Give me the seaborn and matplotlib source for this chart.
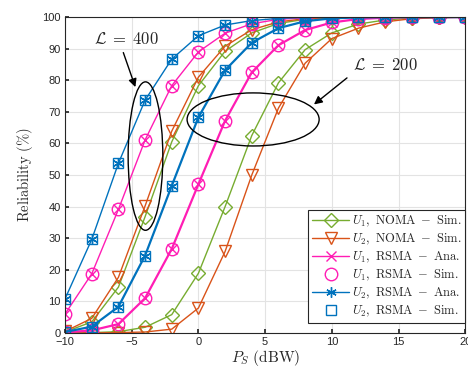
import numpy as np
import pandas as pd
import seaborn as sns
import matplotlib
matplotlib.use("Agg")
import matplotlib.pyplot as plt
from matplotlib.patches import Ellipse
from matplotlib.lines import Line2D

# transmit power P_S (dBW)
ps = [-10, -8, -6, -4, -2, 0, 2, 4, 6, 8, 10, 12, 14, 16, 18, 20]

# L = 400
u1_noma_400 = [0.3, 3.5, 14.5, 36.8, 60.5, 78.3, 89.2, 95.0, 98.0, 99.3, 99.8, 100, 100, 100, 100, 100]
u2_noma_400 = [0.5, 4.6, 17.6, 40.2, 63.9, 81.0, 90.8, 96.0, 98.5, 99.5, 99.9, 100, 100, 100, 100, 100]
u1_rsma_400 = [6.0, 18.7, 39.1, 61.1, 78.3, 89.0, 94.9, 97.9, 99.3, 99.8, 100, 100, 100, 100, 100, 100]
u2_rsma_400 = [10.8, 29.6, 53.7, 73.7, 86.7, 94.1, 97.5, 98.9, 99.6, 99.9, 100, 100, 100, 100, 100, 100]

# L = 200
u1_noma_200 = [0.0, 0.1, 0.4, 1.8, 5.8, 18.9, 40.0, 62.5, 79.2, 89.7, 95.0, 97.8, 99.1, 99.7, 99.9, 100]
u2_noma_200 = [0.0, 0.0, 0.1, 0.3, 1.2, 7.9, 25.8, 50.0, 71.2, 85.4, 93.2, 96.5, 98.5, 99.5, 99.8, 100]
u1_rsma_200 = [0.2, 0.8, 2.8, 11.0, 26.6, 47.1, 67.2, 82.5, 91.1, 95.9, 98.3, 99.4, 99.8, 100, 100, 100]
u2_rsma_200 = [0.3, 2.0, 8.3, 24.5, 46.6, 68.3, 83.2, 91.9, 96.5, 98.7, 99.6, 99.9, 100, 100, 100, 100]

labels = [r"$U_1\mathrm{,\ NOMA}\ -\ \mathrm{Sim.}$",
          r"$U_2\mathrm{,\ NOMA}\ -\ \mathrm{Sim.}$",
          r"$U_1\mathrm{,\ RSMA}\ -\ \mathrm{Ana.}$",
          r"$U_1\mathrm{,\ RSMA}\ -\ \mathrm{Sim.}$",
          r"$U_2\mathrm{,\ RSMA}\ -\ \mathrm{Ana.}$",
          r"$U_2\mathrm{,\ RSMA}\ -\ \mathrm{Sim.}$"]

green = "#77AC30"
orange = "#D95319"
magenta = "#FF1DB4"
blue = "#0072BD"
asterisk = (6, 2, 0)

sns.set_theme(style="whitegrid", rc={
    "grid.color": "#e3e3e3", "grid.linewidth": 0.8,
    "axes.edgecolor": "#262626", "axes.linewidth": 0.8,
    "xtick.direction": "in", "ytick.direction": "in",
    "xtick.bottom": True, "ytick.left": True,
    "xtick.major.size": 3, "ytick.major.size": 3,
})
plt.rcParams["font.family"] = ["Liberation Sans", "DejaVu Sans"]
plt.rcParams["mathtext.fontset"] = "cm"

fig = plt.figure(figsize=(4.68, 3.72), dpi=100)
ax = fig.add_axes([0.139, 0.105, 0.855, 0.849])

df = pd.DataFrame({"ps": ps})

# marker styles: (marker, size)
mk = {"noma1": ("D", 7), "noma2": ("v", 9), "ana1": ("x", 7),
      "sim1": ("o", 9), "ana2": (asterisk, 7.5), "sim2": ("s", 7)}


def draw(y, color, key, lw, line=True):
    m, ms = mk[key]
    sns.lineplot(x=df["ps"], y=y, ax=ax, color=color, marker=m,
                 markersize=ms, linewidth=lw if line else 0,
                 linestyle="-" if line else "none", markerfacecolor="none",
                 markeredgecolor=color, markeredgewidth=1.0)


for grp in (0, 1):
    if grp == 0:
        a, b, c, d = u1_noma_400, u2_noma_400, u1_rsma_400, u2_rsma_400
        lwr = 1.0
    else:
        a, b, c, d = u1_noma_200, u2_noma_200, u1_rsma_200, u2_rsma_200
        lwr = 1.6
    draw(a, green, "noma1", 1.0)
    draw(b, orange, "noma2", 1.0)
    draw(c, magenta, "ana1", lwr)
    draw(c, magenta, "sim1", 0, line=False)
    draw(d, blue, "ana2", lwr)
    draw(d, blue, "sim2", 0, line=False)

ax.set_xlim(-10, 20)
ax.set_ylim(0, 100)
ax.set_xticks([-10, -5, 0, 5, 10, 15, 20])
ax.set_yticks(range(0, 101, 10))
ax.tick_params(labelsize=8, colors="#262626", pad=3)
for s in ax.spines.values():
    s.set_visible(True)
ax.set_xlabel(r"$P_S\ \mathrm{(dBW)}$", fontsize=11, labelpad=1)
ax.set_ylabel(r"$\mathrm{Reliability\ (\%)}$", fontsize=10.5, labelpad=5)

# annotations
ax.add_patch(Ellipse((-3.97, 56), 2.6, 47, fill=False, color="black", lw=1.0, zorder=5))
ax.add_patch(Ellipse((4.1, 67.6), 9.9, 16.8, fill=False, color="black", lw=1.0, zorder=5))
ax.annotate("", xy=(-4.66, 77.0), xytext=(-5.7, 89.6),
            arrowprops=dict(arrowstyle="-|>", color="black", lw=1.0, mutation_scale=12))
ax.annotate("", xy=(8.5, 71.8), xytext=(11.3, 81.3),
            arrowprops=dict(arrowstyle="-|>", color="black", lw=1.0, mutation_scale=12))
ax.text(-5.4, 93, r"$\mathcal{L}\;=\;400$", fontsize=12, ha="center", va="center")
ax.text(14.05, 84.8, r"$\mathcal{L}\;=\;200$", fontsize=12, ha="center", va="center")

# legend
styles = [(green, "noma1", True), (orange, "noma2", True), (magenta, "ana1", True),
          (magenta, "sim1", False), (blue, "ana2", True), (blue, "sim2", False)]
handles = []
for col, key, line in styles:
    m, ms = mk[key]
    handles.append(Line2D([], [], color=col, marker=m, markersize=ms, mfc="none",
                          lw=1.0, ls="-" if line else "none"))
leg = ax.legend(handles, labels, loc="lower right", bbox_to_anchor=(1.0, 0.032),
                fontsize=9, frameon=True, fancybox=False, edgecolor="#262626",
                framealpha=1, borderpad=0.3, labelspacing=0.22, handlelength=3.0,
                handletextpad=0.2, borderaxespad=0)
leg.get_frame().set_linewidth(0.8)

fig.savefig("out.png", dpi=100)
